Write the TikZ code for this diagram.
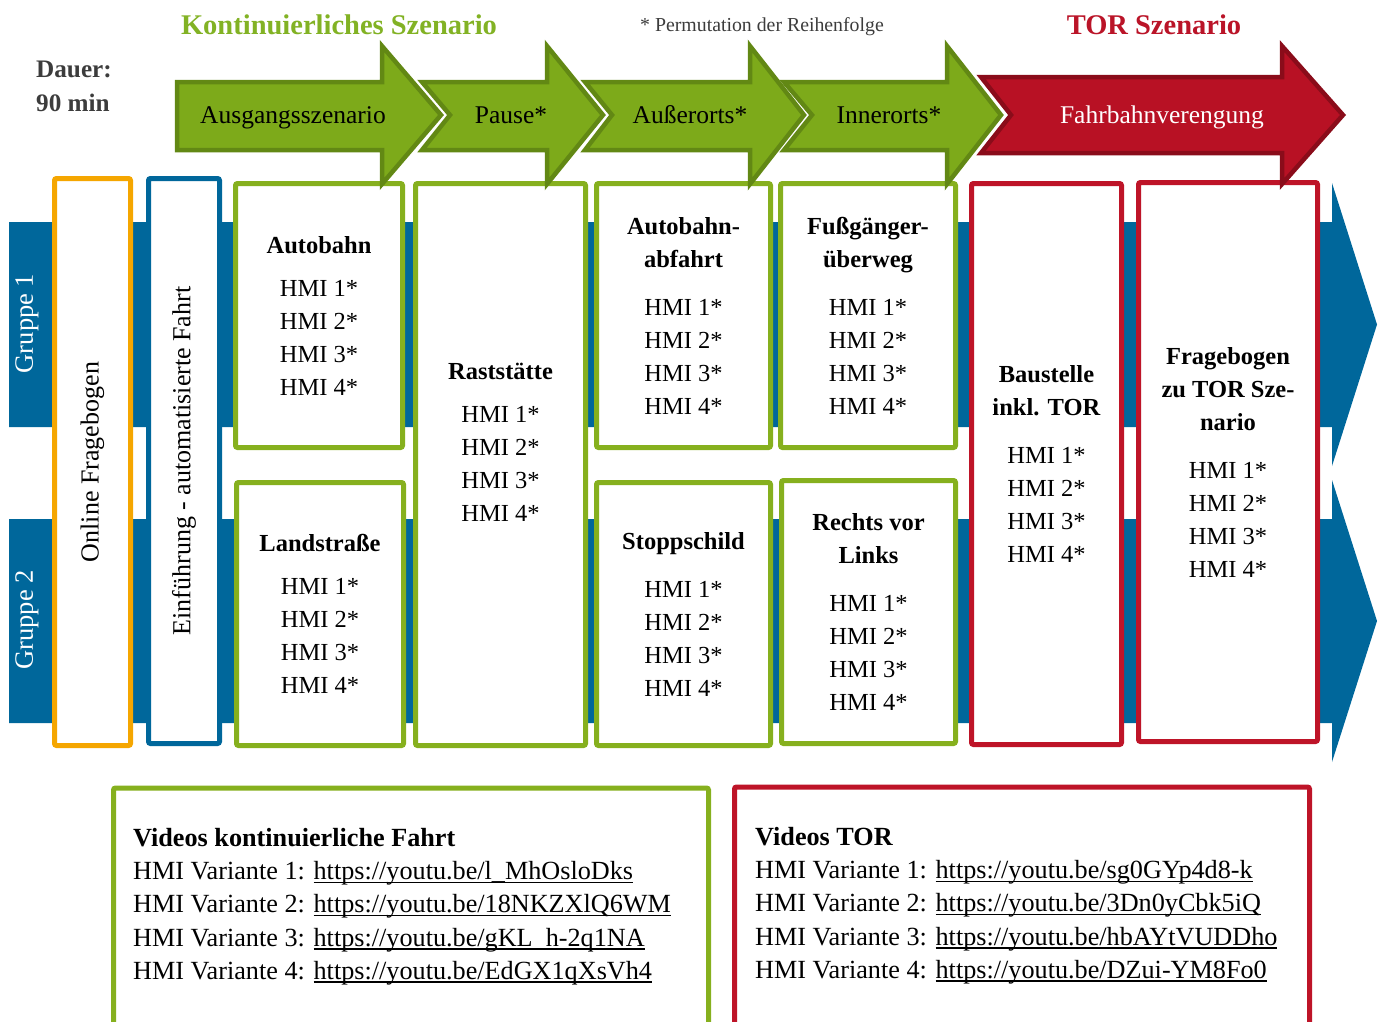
\documentclass[tikz,border=0pt]{standalone}
\usepackage{fontspec}
\setmainfont{Liberation Serif}

\definecolor{bandblue}{RGB}{0,103,155}
\definecolor{boxorange}{RGB}{245,166,0}
\definecolor{boxgreen}{RGB}{134,176,30}
\definecolor{arrowgreen}{RGB}{125,170,26}
\definecolor{arrowgreendark}{RGB}{98,136,20}
\definecolor{boxred}{RGB}{190,20,40}
\definecolor{arrowred}{RGB}{184,17,36}
\definecolor{arrowreddark}{RGB}{138,12,26}
\definecolor{titlegreen}{RGB}{130,178,36}
\definecolor{titlered}{RGB}{186,20,40}
\definecolor{textgray}{RGB}{60,60,60}

% the four HMI variants listed in every scenario box
\newcommand{\hmilist}{HMI 1*\\HMI 2*\\HMI 3*\\HMI 4*}
% underlined link text
\newcommand{\linkul}[1]{\setbox0=\hbox{#1}\rlap{\rule[-3.4pt]{\wd0}{1.5pt}}\box0}

\begin{document}
\begin{tikzpicture}[x=1pt,y=-1pt,
  frame/.style={draw, line width=5pt, fill=white, rounded corners=2pt, inner sep=0pt},
  gframe/.style={frame, draw=boxgreen},
  rframe/.style={frame, draw=boxred},
  boxtext/.style={align=center, inner sep=0pt, text=black, font=\fontsize{24.5}{33}\selectfont},
  sidetext/.style={rotate=90, inner sep=0pt, text=black, font=\fontsize{26}{30}\selectfont},
  grouptext/.style={rotate=90, inner sep=0pt, text=white, font=\fontsize{26.5}{30}\selectfont},
  arrowlabel/.style={anchor=base, inner sep=0pt, font=\fontsize{25.5}{30}\selectfont},
  greenarrow/.style={fill=arrowgreen, draw=arrowgreendark, line width=4.5pt, line join=miter},
  redarrow/.style={fill=arrowred, draw=arrowreddark, line width=4.5pt, line join=miter},
  videotext/.style={anchor=north west, align=left, inner sep=0pt, text=black, font=\fontsize{26.2}{33.3}\selectfont},
  title/.style={inner sep=0pt, font=\bfseries\fontsize{28.5}{32}\selectfont},
  duration/.style={anchor=west, inner sep=0pt, text=textgray, font=\bfseries\fontsize{25.2}{34}\selectfont},
]
\useasboundingbox (0,0) rectangle (1382,1021);

% ---- group bands ----
\fill[bandblue] (9,222) -- (1332,222) -- (1332,183) -- (1377,324.5) -- (1332,466) -- (1332,427) -- (9,427) -- cycle;
\fill[bandblue] (9,519) -- (1332,519) -- (1332,480) -- (1377,621) -- (1332,762) -- (1332,723) -- (9,723) -- cycle;
\node[grouptext] (g1) at (27,323.5) {Gruppe 1};
\node[grouptext] (g2) at (27,620) {Gruppe 2};

% ---- stations ----
\node[frame, draw=boxorange, minimum width=76pt, minimum height=567pt] (online) at (92.5,462) {};
\node[sidetext] (onlinetxt) at (online.center) {Online Fragebogen};
\node[frame, draw=bandblue, minimum width=71pt, minimum height=565pt] (intro) at (184,461) {};
\node[sidetext] (introtxt) at (intro.center) {Einführung - automatisierte Fahrt};

\node[gframe, boxtext, minimum width=167pt, minimum height=264pt] (autobahn) at (319,315.5)
  {\textbf{Autobahn}\\[10pt]\hmilist};
\node[gframe, boxtext, minimum width=167pt, minimum height=263pt] (landstr) at (320,614)
  {\textbf{Landstraße}\\[10pt]\hmilist};
\node[gframe, minimum width=170pt, minimum height=562pt] (rast) at (500.5,464.5) {};
\node[boxtext] (rasttxt) at (500.5,442) {\textbf{Raststätte}\\[10pt]\hmilist};
\node[gframe, boxtext, minimum width=174pt, minimum height=264pt] (abfahrt) at (683.5,315.5)
  {\textbf{Autobahn-}\\\textbf{abfahrt}\\[15pt]\hmilist};
\node[gframe, boxtext, minimum width=174pt, minimum height=263pt] (stopp) at (683.5,614)
  {\textbf{Stoppschild}\\[15pt]\hmilist};
\node[gframe, boxtext, minimum width=175pt, minimum height=264pt] (fuss) at (868,315.5)
  {\textbf{Fußgänger-}\\\textbf{überweg}\\[15pt]\hmilist};
\node[gframe, boxtext, minimum width=174pt, minimum height=263pt] (rechts) at (868.5,612)
  {\textbf{Rechts vor}\\\textbf{Links}\\[15pt]\hmilist};
\node[rframe, boxtext, minimum width=150pt, minimum height=561pt] (baustelle) at (1046.5,464)
  {\textbf{Baustelle}\\\textbf{inkl. TOR}\\[15pt]\hmilist};
\node[rframe, boxtext, minimum width=179pt, minimum height=559pt] (torfrage) at (1228,462)
  {\textbf{Fragebogen}\\\textbf{zu TOR Sze-}\\\textbf{nario}\\[15pt]\hmilist};

% ---- phase arrows ----
\draw[greenarrow] (177,82) -- (382,82) -- (382,46) -- (441,115) -- (382,184) -- (382,150) -- (177,150) -- cycle;
\draw[greenarrow] (422,82) -- (547,82) -- (547,46) -- (603,115) -- (547,184) -- (547,150) -- (422,150) -- (450,115) -- cycle;
\draw[greenarrow] (585,82) -- (750,82) -- (750,46) -- (804,115) -- (750,184) -- (750,150) -- (585,150) -- (612,115) -- cycle;
\draw[greenarrow] (784,82) -- (947,82) -- (947,46) -- (1001,115) -- (947,184) -- (947,150) -- (784,150) -- (812,115) -- cycle;
\draw[redarrow] (981,77) -- (1282,77) -- (1282,46) -- (1343,115) -- (1282,184) -- (1282,153) -- (981,153) -- (1011,115) -- cycle;

\node[arrowlabel] (a1) at (293,123) {Ausgangsszenario};
\node[arrowlabel] (a2) at (511,123) {Pause*};
\node[arrowlabel] (a3) at (690,123) {Außerorts*};
\node[arrowlabel] (a4) at (889,123) {Innerorts*};
\node[arrowlabel, text=white] (a5) at (1162,123) {Fahrbahnverengung};

% ---- headings ----
\node[title, text=titlegreen] (tk) at (339,25) {Kontinuierliches Szenario};
\node[title, text=titlered] (tt) at (1154,25) {TOR Szenario};
\node[inner sep=0pt, text=textgray, font=\fontsize{19.8}{22}\selectfont] (perm) at (762,27) {* Permutation der Reihenfolge};
\node[duration] (dauer1) at (36,69) {Dauer:};
\node[duration] (dauer2) at (36,103) {90 min};

% ---- video links ----
\node[gframe, minimum width=595pt, minimum height=270pt, anchor=north] (vidk) at (411,785.5) {};
\node[videotext] (vidktxt) at (133,828) {\textbf{Videos kontinuierliche Fahrt}\\
  HMI Variante 1: \linkul{https://youtu.be/l\_MhOsloDks}\\
  HMI Variante 2: \linkul{https://youtu.be/18NKZXlQ6WM}\\
  HMI Variante 3: \linkul{https://youtu.be/gKL\_h-2q1NA}\\
  HMI Variante 4: \linkul{https://youtu.be/EdGX1qXsVh4}};
\node[rframe, minimum width=575pt, minimum height=270pt, anchor=north] (vidt) at (1022,784.5) {};
\node[videotext] (vidttxt) at (755,827) {\textbf{Videos TOR}\\
  HMI Variante 1: \linkul{https://youtu.be/sg0GYp4d8-k}\\
  HMI Variante 2: \linkul{https://youtu.be/3Dn0yCbk5iQ}\\
  HMI Variante 3: \linkul{https://youtu.be/hbAYtVUDDho}\\
  HMI Variante 4: \linkul{https://youtu.be/DZui-YM8Fo0}};
\end{tikzpicture}
\end{document}
